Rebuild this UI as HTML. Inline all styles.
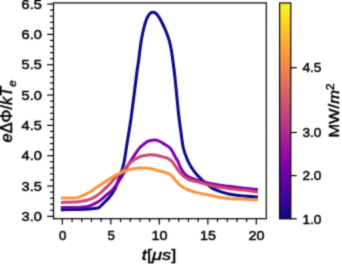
<!DOCTYPE html>
<html><head><meta charset="utf-8"><style>
html,body{margin:0;padding:0;background:#fff;}
svg{display:block;}
.tl{font-family:"Liberation Sans",sans-serif;font-size:12.6px;font-weight:normal;fill:#000;stroke:#000;stroke-width:0.45;}
.lab{font-family:"Liberation Sans",sans-serif;font-size:14px;font-weight:normal;fill:#000;stroke:#000;stroke-width:0.45;}
</style></head><body>
<svg width="342" height="264" viewBox="0 0 342 264">
<defs>
<clipPath id="ax"><rect x="53.5" y="2.9" width="212.8" height="215.79999999999998"/></clipPath>
<linearGradient id="cb" x1="0" y1="0" x2="0" y2="1"><stop offset="0.000" stop-color="#f0f921"/><stop offset="0.050" stop-color="#f7e425"/><stop offset="0.100" stop-color="#fcce25"/><stop offset="0.150" stop-color="#feba2c"/><stop offset="0.200" stop-color="#fca636"/><stop offset="0.250" stop-color="#f89540"/><stop offset="0.300" stop-color="#f2844b"/><stop offset="0.350" stop-color="#ea7457"/><stop offset="0.400" stop-color="#e16462"/><stop offset="0.450" stop-color="#d6556d"/><stop offset="0.500" stop-color="#cc4778"/><stop offset="0.550" stop-color="#bf3984"/><stop offset="0.600" stop-color="#b12a90"/><stop offset="0.650" stop-color="#a11b9b"/><stop offset="0.700" stop-color="#8f0da4"/><stop offset="0.750" stop-color="#7e03a8"/><stop offset="0.800" stop-color="#6a00a8"/><stop offset="0.850" stop-color="#5601a4"/><stop offset="0.900" stop-color="#41049d"/><stop offset="0.950" stop-color="#2a0593"/><stop offset="1.000" stop-color="#0d0887"/></linearGradient>
<filter id="bl" filterUnits="userSpaceOnUse" x="0" y="0" width="342" height="264" color-interpolation-filters="sRGB"><feConvolveMatrix order="5" kernelMatrix="0.00001 0.00042 0.00170 0.00042 0.00001 0.00042 0.02740 0.10988 0.02740 0.00042 0.00170 0.10988 0.44065 0.10988 0.00170 0.00042 0.02740 0.10988 0.02740 0.00042 0.00001 0.00042 0.00170 0.00042 0.00001" edgeMode="duplicate" preserveAlpha="true"/></filter>
</defs>
<g filter="url(#bl)">
<rect width="342" height="264" fill="#fff"/>
<g clip-path="url(#ax)" fill="none" stroke-width="3.0" stroke-linecap="square" stroke-linejoin="round">
<path d="M62.35,209.70 C64.46,209.67 71.22,209.58 75.00,209.50 C78.78,209.42 82.17,209.32 85.00,209.20 C87.83,209.08 90.17,208.95 92.00,208.80 C93.83,208.65 94.83,208.53 96.00,208.30 C97.17,208.07 97.92,208.07 99.00,207.40 C100.08,206.73 101.42,205.32 102.50,204.30 C103.58,203.28 104.53,202.27 105.50,201.30 C106.47,200.33 107.25,199.68 108.30,198.50 C109.35,197.32 110.70,195.75 111.80,194.20 C112.90,192.65 113.95,191.10 114.90,189.20 C115.85,187.30 116.65,184.92 117.50,182.80 C118.35,180.68 119.25,178.63 120.00,176.50 C120.75,174.37 121.30,172.50 122.00,170.00 C122.70,167.50 123.55,164.67 124.20,161.50 C124.85,158.33 125.35,154.50 125.90,151.00 C126.45,147.50 126.73,145.33 127.50,140.50 C128.27,135.67 129.53,128.58 130.50,122.00 C131.47,115.42 132.43,107.67 133.30,101.00 C134.17,94.33 135.05,87.17 135.70,82.00 C136.35,76.83 136.70,73.67 137.20,70.00 C137.70,66.33 138.07,64.67 138.70,60.00 C139.33,55.33 140.22,47.00 141.00,42.00 C141.78,37.00 142.53,33.67 143.40,30.00 C144.27,26.33 145.33,22.45 146.20,20.00 C147.07,17.55 147.82,16.50 148.60,15.30 C149.38,14.10 150.13,13.30 150.90,12.80 C151.67,12.30 152.43,12.28 153.20,12.30 C153.97,12.32 154.75,12.38 155.50,12.90 C156.25,13.42 156.85,14.22 157.70,15.40 C158.55,16.58 159.38,17.73 160.60,20.00 C161.82,22.27 163.58,25.67 165.00,29.00 C166.42,32.33 168.05,36.50 169.10,40.00 C170.15,43.50 170.68,46.67 171.30,50.00 C171.92,53.33 172.18,55.33 172.80,60.00 C173.42,64.67 174.27,71.33 175.00,78.00 C175.73,84.67 176.57,93.67 177.20,100.00 C177.83,106.33 178.13,110.33 178.80,116.00 C179.47,121.67 180.45,128.67 181.20,134.00 C181.95,139.33 182.25,143.67 183.30,148.00 C184.35,152.33 186.08,156.67 187.50,160.00 C188.92,163.33 190.27,165.58 191.80,168.00 C193.33,170.42 194.87,172.40 196.70,174.50 C198.53,176.60 201.08,179.02 202.80,180.60 C204.52,182.18 205.55,182.82 207.00,184.00 C208.45,185.18 210.17,186.80 211.50,187.70 C212.83,188.60 213.58,188.78 215.00,189.40 C216.42,190.02 217.50,190.58 220.00,191.40 C222.50,192.22 226.00,193.53 230.00,194.30 C234.00,195.07 239.60,195.57 244.00,196.00 C248.40,196.43 254.33,196.75 256.40,196.90" stroke="#0d0887" />
<path d="M62.35,207.60 C64.46,207.58 71.72,207.58 75.00,207.50 C78.28,207.42 79.83,207.28 82.00,207.10 C84.17,206.92 86.00,206.93 88.00,206.40 C90.00,205.87 92.00,204.87 94.00,203.90 C96.00,202.93 98.00,202.02 100.00,200.60 C102.00,199.18 104.00,197.13 106.00,195.40 C108.00,193.67 110.33,191.88 112.00,190.20 C113.67,188.52 114.58,187.20 116.00,185.30 C117.42,183.40 118.93,181.35 120.50,178.80 C122.07,176.25 124.07,172.38 125.40,170.00 C126.73,167.62 127.47,166.23 128.50,164.50 C129.53,162.77 130.35,161.55 131.60,159.60 C132.85,157.65 134.57,154.85 136.00,152.80 C137.43,150.75 138.37,149.15 140.20,147.30 C142.03,145.45 145.27,142.83 147.00,141.70 C148.73,140.57 149.37,140.78 150.60,140.50 C151.83,140.22 153.17,139.98 154.40,140.00 C155.63,140.02 156.77,140.18 158.00,140.60 C159.23,141.02 160.52,141.78 161.80,142.50 C163.08,143.22 164.50,144.12 165.70,144.90 C166.90,145.68 168.02,146.35 169.00,147.20 C169.98,148.05 170.63,148.53 171.60,150.00 C172.57,151.47 173.70,154.00 174.80,156.00 C175.90,158.00 177.18,159.95 178.20,162.00 C179.22,164.05 179.70,166.20 180.90,168.30 C182.10,170.40 183.72,173.00 185.40,174.60 C187.08,176.20 188.57,176.83 191.00,177.90 C193.43,178.97 196.83,180.07 200.00,181.00 C203.17,181.93 206.67,182.80 210.00,183.50 C213.33,184.20 215.67,184.58 220.00,185.20 C224.33,185.82 229.93,186.47 236.00,187.20 C242.07,187.93 253.00,189.20 256.40,189.60" stroke="#7e03a8" />
<path d="M62.35,202.40 C64.46,202.35 72.06,202.25 75.00,202.10 C77.94,201.95 77.83,201.85 80.00,201.50 C82.17,201.15 85.67,200.68 88.00,200.00 C90.33,199.32 92.00,198.52 94.00,197.40 C96.00,196.28 98.00,194.93 100.00,193.30 C102.00,191.67 104.00,189.57 106.00,187.60 C108.00,185.63 110.17,183.38 112.00,181.50 C113.83,179.62 115.50,177.83 117.00,176.30 C118.50,174.77 119.70,173.62 121.00,172.30 C122.30,170.98 123.55,169.68 124.80,168.40 C126.05,167.12 127.37,165.72 128.50,164.60 C129.63,163.48 130.52,162.58 131.60,161.70 C132.68,160.82 133.85,160.03 135.00,159.30 C136.15,158.57 137.17,157.88 138.50,157.30 C139.83,156.72 141.42,156.18 143.00,155.80 C144.58,155.42 146.60,155.17 148.00,155.00 C149.40,154.83 150.07,154.77 151.40,154.80 C152.73,154.83 154.57,154.97 156.00,155.20 C157.43,155.43 158.20,155.75 160.00,156.20 C161.80,156.65 164.90,157.13 166.80,157.90 C168.70,158.67 170.07,159.57 171.40,160.80 C172.73,162.03 173.62,163.67 174.80,165.30 C175.98,166.93 177.12,168.82 178.50,170.60 C179.88,172.38 181.68,174.67 183.10,176.00 C184.52,177.33 185.68,177.90 187.00,178.60 C188.32,179.30 188.83,179.55 191.00,180.20 C193.17,180.85 196.83,181.67 200.00,182.50 C203.17,183.33 206.67,184.40 210.00,185.20 C213.33,186.00 216.67,186.70 220.00,187.30 C223.33,187.90 226.00,188.33 230.00,188.80 C234.00,189.27 239.60,189.57 244.00,190.10 C248.40,190.63 254.33,191.68 256.40,192.00" stroke="#cc4778" />
<path d="M62.35,197.90 C63.62,197.90 67.97,197.90 70.00,197.90 C72.03,197.90 73.25,197.95 74.50,197.90 C75.75,197.85 76.58,197.78 77.50,197.60 C78.42,197.42 78.58,197.37 80.00,196.80 C81.42,196.23 84.00,195.22 86.00,194.20 C88.00,193.18 90.08,191.93 92.00,190.70 C93.92,189.47 95.60,188.08 97.50,186.80 C99.40,185.52 101.48,184.27 103.40,183.00 C105.32,181.73 107.12,180.42 109.00,179.20 C110.88,177.98 113.20,176.57 114.70,175.70 C116.20,174.83 116.78,174.57 118.00,174.00 C119.22,173.43 120.67,172.83 122.00,172.30 C123.33,171.77 124.77,171.25 126.00,170.80 C127.23,170.35 127.90,169.98 129.40,169.60 C130.90,169.22 133.12,168.78 135.00,168.50 C136.88,168.22 138.87,167.97 140.70,167.90 C142.53,167.83 144.12,167.92 146.00,168.10 C147.88,168.28 150.00,168.58 152.00,169.00 C154.00,169.42 155.93,170.08 158.00,170.60 C160.07,171.12 162.65,171.58 164.40,172.10 C166.15,172.62 167.32,173.12 168.50,173.70 C169.68,174.28 170.58,174.83 171.50,175.60 C172.42,176.37 173.20,177.35 174.00,178.30 C174.80,179.25 175.50,180.33 176.30,181.30 C177.10,182.27 177.93,183.27 178.80,184.10 C179.67,184.93 180.63,185.65 181.50,186.30 C182.37,186.95 183.15,187.52 184.00,188.00 C184.85,188.48 185.13,188.62 186.60,189.20 C188.07,189.78 190.90,190.88 192.80,191.50 C194.70,192.12 196.13,192.47 198.00,192.90 C199.87,193.33 202.00,193.72 204.00,194.10 C206.00,194.48 207.33,194.63 210.00,195.20 C212.67,195.77 216.33,196.92 220.00,197.50 C223.67,198.08 228.00,198.42 232.00,198.70 C236.00,198.98 239.93,199.03 244.00,199.20 C248.07,199.37 254.33,199.62 256.40,199.70" stroke="#f89540" />
</g>
<rect x="53.5" y="2.9" width="212.80" height="215.80" fill="none" stroke="#000" stroke-width="1.2"/>
<g stroke="#000" stroke-width="1.2">
<line x1="47.2" y1="216.35" x2="53.5" y2="216.35"/>
<line x1="47.2" y1="186.03" x2="53.5" y2="186.03"/>
<line x1="47.2" y1="155.70" x2="53.5" y2="155.70"/>
<line x1="47.2" y1="125.38" x2="53.5" y2="125.38"/>
<line x1="47.2" y1="95.05" x2="53.5" y2="95.05"/>
<line x1="47.2" y1="64.72" x2="53.5" y2="64.72"/>
<line x1="47.2" y1="34.40" x2="53.5" y2="34.40"/>
<line x1="47.2" y1="4.07" x2="53.5" y2="4.07"/>
<line x1="50.0" y1="210.28" x2="53.5" y2="210.28"/>
<line x1="50.0" y1="204.22" x2="53.5" y2="204.22"/>
<line x1="50.0" y1="198.16" x2="53.5" y2="198.16"/>
<line x1="50.0" y1="192.09" x2="53.5" y2="192.09"/>
<line x1="50.0" y1="179.96" x2="53.5" y2="179.96"/>
<line x1="50.0" y1="173.89" x2="53.5" y2="173.89"/>
<line x1="50.0" y1="167.83" x2="53.5" y2="167.83"/>
<line x1="50.0" y1="161.76" x2="53.5" y2="161.76"/>
<line x1="50.0" y1="149.64" x2="53.5" y2="149.64"/>
<line x1="50.0" y1="143.57" x2="53.5" y2="143.57"/>
<line x1="50.0" y1="137.50" x2="53.5" y2="137.50"/>
<line x1="50.0" y1="131.44" x2="53.5" y2="131.44"/>
<line x1="50.0" y1="119.31" x2="53.5" y2="119.31"/>
<line x1="50.0" y1="113.24" x2="53.5" y2="113.24"/>
<line x1="50.0" y1="107.18" x2="53.5" y2="107.18"/>
<line x1="50.0" y1="101.11" x2="53.5" y2="101.11"/>
<line x1="50.0" y1="88.99" x2="53.5" y2="88.99"/>
<line x1="50.0" y1="82.92" x2="53.5" y2="82.92"/>
<line x1="50.0" y1="76.86" x2="53.5" y2="76.86"/>
<line x1="50.0" y1="70.79" x2="53.5" y2="70.79"/>
<line x1="50.0" y1="58.66" x2="53.5" y2="58.66"/>
<line x1="50.0" y1="52.59" x2="53.5" y2="52.59"/>
<line x1="50.0" y1="46.53" x2="53.5" y2="46.53"/>
<line x1="50.0" y1="40.46" x2="53.5" y2="40.46"/>
<line x1="50.0" y1="28.34" x2="53.5" y2="28.34"/>
<line x1="50.0" y1="22.27" x2="53.5" y2="22.27"/>
<line x1="50.0" y1="16.21" x2="53.5" y2="16.21"/>
<line x1="50.0" y1="10.14" x2="53.5" y2="10.14"/>
<line x1="62.35" y1="218.7" x2="62.35" y2="224.4"/>
<line x1="110.84" y1="218.7" x2="110.84" y2="224.4"/>
<line x1="159.32" y1="218.7" x2="159.32" y2="224.4"/>
<line x1="207.81" y1="218.7" x2="207.81" y2="224.4"/>
<line x1="256.30" y1="218.7" x2="256.30" y2="224.4"/>
<line x1="72.05" y1="218.7" x2="72.05" y2="222.0"/>
<line x1="81.75" y1="218.7" x2="81.75" y2="222.0"/>
<line x1="91.44" y1="218.7" x2="91.44" y2="222.0"/>
<line x1="101.14" y1="218.7" x2="101.14" y2="222.0"/>
<line x1="120.53" y1="218.7" x2="120.53" y2="222.0"/>
<line x1="130.23" y1="218.7" x2="130.23" y2="222.0"/>
<line x1="139.93" y1="218.7" x2="139.93" y2="222.0"/>
<line x1="149.63" y1="218.7" x2="149.63" y2="222.0"/>
<line x1="169.02" y1="218.7" x2="169.02" y2="222.0"/>
<line x1="178.72" y1="218.7" x2="178.72" y2="222.0"/>
<line x1="188.42" y1="218.7" x2="188.42" y2="222.0"/>
<line x1="198.11" y1="218.7" x2="198.11" y2="222.0"/>
<line x1="217.51" y1="218.7" x2="217.51" y2="222.0"/>
<line x1="227.21" y1="218.7" x2="227.21" y2="222.0"/>
<line x1="236.91" y1="218.7" x2="236.91" y2="222.0"/>
<line x1="246.60" y1="218.7" x2="246.60" y2="222.0"/>
<line x1="290.8" y1="218.80" x2="296.80" y2="218.80"/>
<line x1="290.8" y1="175.64" x2="296.80" y2="175.64"/>
<line x1="290.8" y1="132.48" x2="296.80" y2="132.48"/>
<line x1="290.8" y1="67.74" x2="296.80" y2="67.74"/>
</g>
<rect x="279.6" y="3.0" width="11.20" height="215.80" fill="url(#cb)" stroke="#000" stroke-width="1.2"/>
<text class="tl" x="41.90" y="220.85" text-anchor="end" textLength="20.30" lengthAdjust="spacingAndGlyphs">3.0</text>
<text class="tl" x="41.90" y="190.53" text-anchor="end" textLength="20.30" lengthAdjust="spacingAndGlyphs">3.5</text>
<text class="tl" x="41.90" y="160.20" text-anchor="end" textLength="20.30" lengthAdjust="spacingAndGlyphs">4.0</text>
<text class="tl" x="41.90" y="129.88" text-anchor="end" textLength="20.30" lengthAdjust="spacingAndGlyphs">4.5</text>
<text class="tl" x="41.90" y="99.55" text-anchor="end" textLength="20.30" lengthAdjust="spacingAndGlyphs">5.0</text>
<text class="tl" x="41.90" y="69.22" text-anchor="end" textLength="20.30" lengthAdjust="spacingAndGlyphs">5.5</text>
<text class="tl" x="41.90" y="38.90" text-anchor="end" textLength="20.30" lengthAdjust="spacingAndGlyphs">6.0</text>
<text class="tl" x="41.90" y="8.57" text-anchor="end" textLength="20.30" lengthAdjust="spacingAndGlyphs">6.5</text>
<text class="tl" x="62.65" y="239.50" text-anchor="middle" textLength="7.40" lengthAdjust="spacingAndGlyphs">0</text>
<text class="tl" x="111.14" y="239.50" text-anchor="middle" textLength="7.40" lengthAdjust="spacingAndGlyphs">5</text>
<text class="tl" x="159.62" y="239.50" text-anchor="middle" textLength="16.00" lengthAdjust="spacingAndGlyphs">10</text>
<text class="tl" x="208.11" y="239.50" text-anchor="middle" textLength="16.00" lengthAdjust="spacingAndGlyphs">15</text>
<text class="tl" x="256.60" y="239.50" text-anchor="middle" textLength="16.00" lengthAdjust="spacingAndGlyphs">20</text>
<text class="tl" x="302.40" y="223.50" text-anchor="start" textLength="19.00" lengthAdjust="spacingAndGlyphs">1.0</text>
<text class="tl" x="302.40" y="180.34" text-anchor="start" textLength="19.00" lengthAdjust="spacingAndGlyphs">2.0</text>
<text class="tl" x="302.40" y="137.18" text-anchor="start" textLength="19.00" lengthAdjust="spacingAndGlyphs">3.0</text>
<text class="tl" x="302.40" y="72.44" text-anchor="start" textLength="19.00" lengthAdjust="spacingAndGlyphs">4.5</text>

<text class="lab" style="font-size:16.2px" transform="translate(12.1,142.4) rotate(-90)" textLength="62.0" lengthAdjust="spacingAndGlyphs"><tspan font-style="italic">e</tspan>ΔΦ/<tspan font-style="italic">kT</tspan><tspan font-style="italic" font-size="11.5px" dy="3.4">e</tspan></text>
<text class="lab" style="font-size:15.2px" transform="translate(141.8,260.0)" textLength="34.5" lengthAdjust="spacingAndGlyphs"><tspan font-style="italic">t</tspan>[<tspan font-style="italic">μs</tspan>]</text>
<text class="lab" style="font-size:14.6px" transform="translate(339.4,137.6) rotate(-90)" textLength="54.0" lengthAdjust="spacingAndGlyphs">MW/<tspan font-style="italic">m</tspan><tspan font-size="10.4px" dy="-5.5">2</tspan></text>
</g>
</svg>
</body></html>
